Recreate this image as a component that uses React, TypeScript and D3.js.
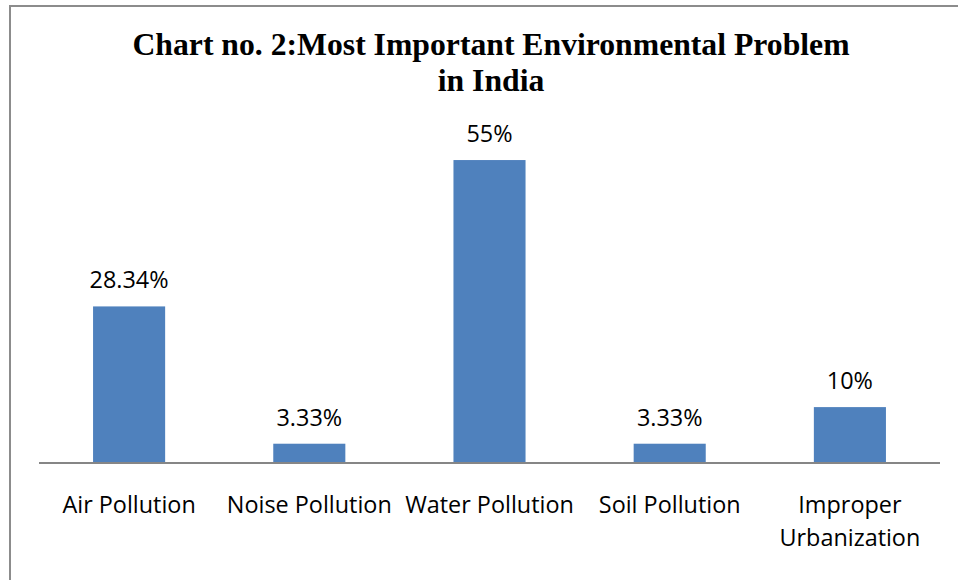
import React from "react";
import * as d3 from "d3";

const categories: string[][] = [
  ["Air Pollution"],
  ["Noise Pollution"],
  ["Water Pollution"],
  ["Soil Pollution"],
  ["Improper", "Urbanization"],
];
const values: number[] = [28.34, 3.33, 55, 3.33, 10];
const valueLabels: string[] = ["28.34%", "3.33%", "55%", "3.33%", "10%"];
const titleLines: string[] = ["Chart no. 2:Most Important Environmental Problem", "in India"];

const W = 958;
const H = 580;
const plotLeft = 39;
const plotRight = 940;
const baseY = 462;
const pxPerUnit = 5.49;
const yMax = 60;

export default function App() {
  const x = d3
    .scaleBand<number>()
    .domain(values.map((_, i) => i))
    .range([plotLeft, plotRight])
    .paddingInner(0.6)
    .paddingOuter(0.3);
  const y = d3
    .scaleLinear()
    .domain([0, yMax])
    .range([baseY, baseY - yMax * pxPerUnit]);
  const labelFont = "'Open Sans', sans-serif";
  return (
    <svg
      width={W}
      height={H}
      style={{ position: "absolute", left: 0, top: 0, background: "#fff" }}
    >
      <rect x={0} y={0} width={W} height={H} fill="#fff" />
      <rect x={10} y={6} width={W + 20} height={H + 20} fill="none" stroke="#8c8c8c" strokeWidth={2} />
      <g fontFamily="'Liberation Serif', 'Times New Roman', serif" fontWeight="bold" fontSize={31.7} textAnchor="middle" fill="#000">
        {titleLines.map((t, i) => (
          <text key={i} x={491} y={55 + i * 36}>
            {t}
          </text>
        ))}
      </g>
      {values.map((v, i) => (
        <rect
          key={i}
          x={x(i)!}
          y={y(v)}
          width={x.bandwidth()}
          height={baseY - y(v)}
          fill="#4F81BD"
        />
      ))}
      <line x1={plotLeft} x2={plotRight} y1={baseY + 1} y2={baseY + 1} stroke="#868686" strokeWidth={2} />
      <g fontFamily={labelFont} fontSize={23.4} textAnchor="middle" fill="#000">
        {values.map((v, i) => (
          <text key={i} x={x(i)! + x.bandwidth() / 2} y={y(v) - 18}>
            {valueLabels[i]}
          </text>
        ))}
        {categories.map((lines, i) =>
          lines.map((t, j) => (
            <text key={i + "-" + j} x={x(i)! + x.bandwidth() / 2} y={513 + j * 33}>
              {t}
            </text>
          ))
        )}
      </g>
    </svg>
  );
}
